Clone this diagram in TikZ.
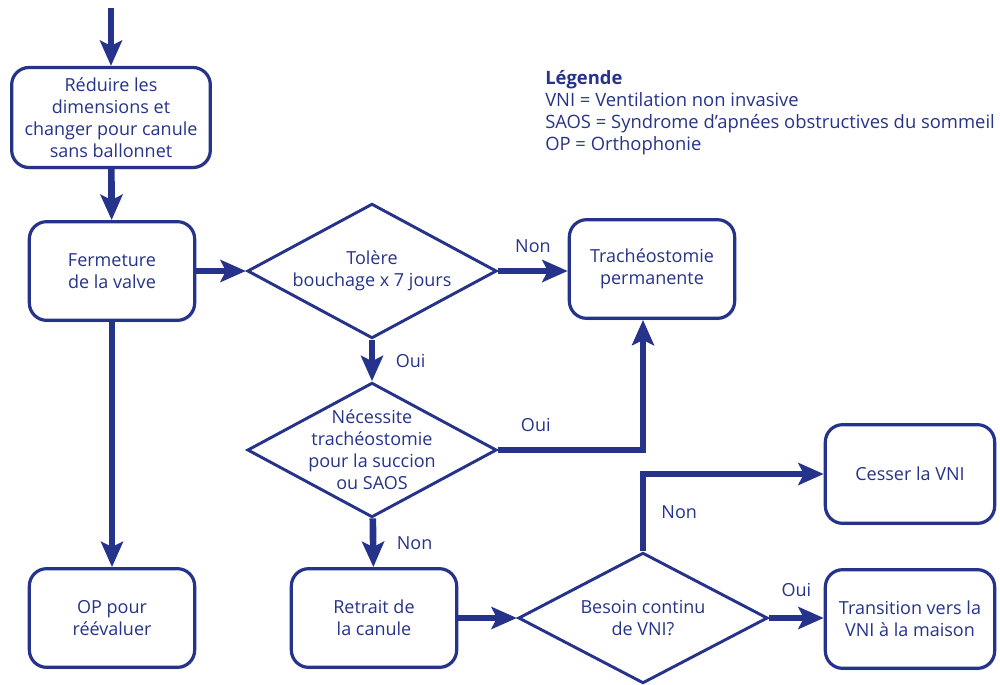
\documentclass[tikz,border=0pt]{standalone}
\usepackage{fontspec}
\setmainfont{Open Sans}
\usetikzlibrary{arrows.meta, shapes.geometric, shadows}
\definecolor{bleu}{HTML}{26338A}

\begin{document}
\begin{tikzpicture}[x=0.75pt,y=-0.75pt,
    font=\fontsize{13.5}{16.5}\selectfont, text=bleu,
    boite/.style={draw=bleu, line width=2.4pt, rounded corners=13pt, fill=white,
      align=center, minimum width=124pt, minimum height=74pt, inner sep=2pt,
      drop shadow={opacity=0.18, shadow xshift=1pt, shadow yshift=-1.5pt}},
    losange/.style={diamond, draw=bleu, line width=2.2pt, inner sep=0pt,
      minimum width=187pt, minimum height=101pt},
    fleche/.style={draw=bleu, line width=5pt,
      -{Stealth[length=19pt,width=16.5pt,inset=4pt]}}]
  \useasboundingbox (0,0) rectangle (1000,685);
  \coordinate (depart) at (111,8);
  \node[boite, minimum width=149pt, minimum height=75pt] (reduire) at (111,117.5)
    {Réduire les\\dimensions et\\changer pour canule\\sans ballonnet};
  \node[boite] (fermeture) at (112,271) {Fermeture\\de la valve};
  \node[boite] (op) at (112,618) {OP pour\\réévaluer};
  \node[losange, label={[align=center]center:{Tolère\\bouchage x 7 jours}}] (tolere) at (372,271) {};
  \node[losange, label={[align=center]center:{Nécessite\\trachéostomie\\pour la succion\\ou SAOS}}] (necessite) at (372,450) {};
  \node[boite] (tracheo) at (652,269) {Trachéostomie\\permanente};
  \node[boite] (retrait) at (374,618) {Retrait de\\la canule};
  \node[losange, minimum height=98pt, label={[align=center]center:{Besoin continu\\de VNI?}}] (besoin) at (643,618) {};
  \node[boite, minimum width=127pt] (cesser) at (910,474) {Cesser la VNI};
  \node[boite, minimum width=127pt] (transition) at (910,619) {Transition vers la\\VNI à la maison};
  \node[anchor=north west, align=left, inner sep=0pt, font=\fontsize{13.8}{16.6}\selectfont] (legende) at (545,70)
    {\textbf{Légende}\\VNI = Ventilation non invasive\\SAOS = Syndrome d’apnées obstructives du sommeil\\OP = Orthophonie};

  \path[fleche] (depart) -- (reduire);
  \path[fleche] (reduire) -- (fermeture);
  \path[fleche] (fermeture) -- (tolere);
  \path[fleche] (fermeture) -- (op);
  \path[fleche] (tolere) -- node[above=8pt]{Non} (tracheo.west |- tolere);
  \path[fleche] (tolere) -- node[right=12pt]{Oui} (necessite);
  \path[fleche] (necessite.east) -| node[pos=0.13, above=8pt]{Oui} (besoin.north |- tracheo.south);
  \path[fleche] (necessite) -- node[right=12pt]{Non} (retrait);
  \path[fleche] (retrait) -- (besoin);
  \path[fleche] (besoin.north) |- node[pos=0.25, right=8pt]{Non} (cesser.west);
  \path[fleche] (besoin) -- node[above=10pt]{Oui} (transition.west |- besoin);
\end{tikzpicture}
\end{document}
